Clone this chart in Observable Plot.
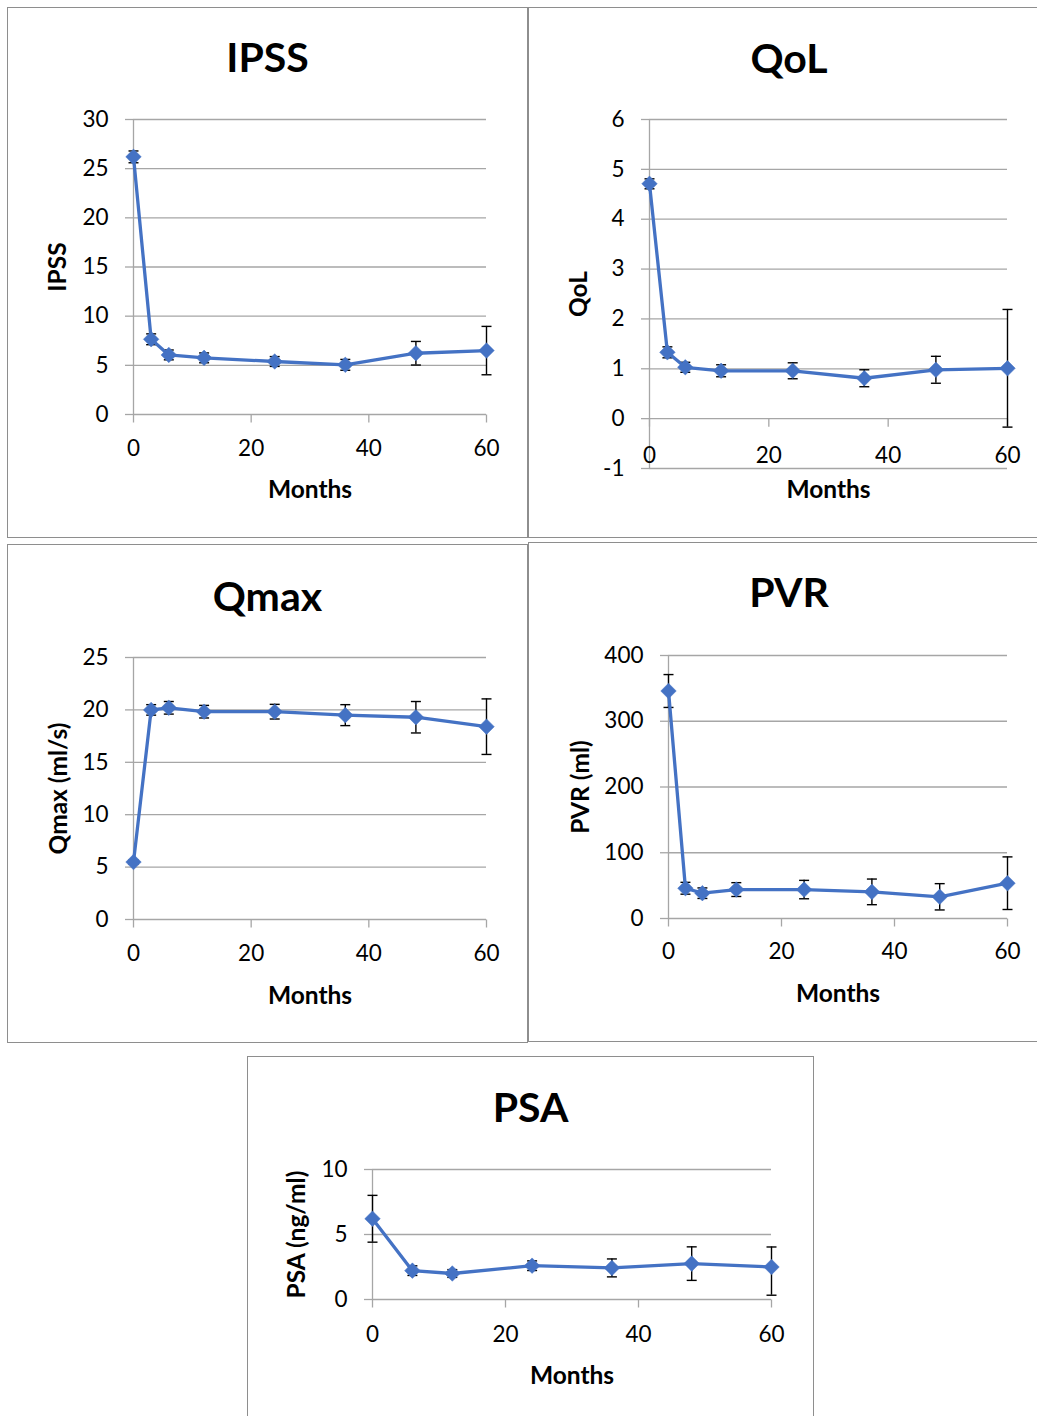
<!DOCTYPE html>
<html><head><meta charset="utf-8">
<script src="https://cdn.jsdelivr.net/npm/d3@7"></script>
<script src="https://cdn.jsdelivr.net/npm/@observablehq/plot@0.6"></script>
<style>
html,body{margin:0;padding:0;background:#fff;overflow:hidden;width:1037px;height:1416px;}
body{position:relative;font-family:Lato,"Open Sans",sans-serif;}
.panel{position:absolute;box-sizing:border-box;outline:1.5px solid #8e8e8e;outline-offset:-1px;background:#fff;}
.title{box-sizing:border-box;height:90px;text-align:center;font-weight:700;font-size:41px;line-height:1.2;color:#000;white-space:nowrap;}
.panel svg{display:block;}
</style></head><body>
<script>
// ---- data ----
const months = [0, 3, 6, 12, 24, 36, 48, 60];
const psaMonths = [0, 6, 12, 24, 36, 48, 60];
const xTicks = [0, 20, 40, 60];

const ipss = [26.2, 7.65, 6.06, 5.76, 5.39, 5.05, 6.23, 6.5];
const ipssErr = [0.6, 0.55, 0.5, 0.5, 0.5, 0.55, 1.2, 2.46];
const ipssTicks = [0, 5, 10, 15, 20, 25, 30];

const qol = [4.71, 1.33, 1.03, 0.96, 0.96, 0.81, 0.98, 1.01];
const qolErr = [0.1, 0.11, 0.1, 0.12, 0.16, 0.17, 0.27, 1.18];
const qolTicks = [-1, 0, 1, 2, 3, 4, 5, 6];

const qmax = [5.48, 20.0, 20.2, 19.83, 19.83, 19.5, 19.3, 18.4];
const qmaxErr = [0.2, 0.5, 0.6, 0.6, 0.7, 1.0, 1.5, 2.65];
const qmaxTicks = [0, 5, 10, 15, 20, 25];

const pvr = [346, 46, 38.5, 44, 44, 40.5, 33, 53.7];
const pvrErr = [25, 9, 8, 10.5, 14, 19.5, 20, 40];
const pvrTicks = [0, 100, 200, 300, 400];

const psa = [6.21, 2.22, 2.0, 2.6, 2.43, 2.76, 2.5];
const psaErrUp = [1.8, 0.37, 0.3, 0.37, 0.69, 1.29, 1.54];
const psaErrDown = [1.8, 0.37, 0.3, 0.37, 0.69, 1.29, 2.17];
const psaTicks = [0, 5, 10];

// ---- styling ----
const BLUE = "#4472C4";
const GRID = "#a6a6a6";
const FONT = "Lato, 'Open Sans', sans-serif";
const TICK_FS = 22.5;
const AXT_FS = 24.5;

const capSymbol = {draw(ctx) { ctx.moveTo(-5, 0); ctx.lineTo(5, 0); }};
const tickDownSymbol = {draw(ctx) { ctx.moveTo(0, 0); ctx.lineTo(0, 8); }};

function panel(cfg) {
  const div = document.createElement("div");
  div.className = "panel";
  Object.assign(div.style, {left: cfg.left + "px", top: cfg.top + "px", width: cfg.w + "px", height: cfg.h + "px"});
  const t = document.createElement("div");
  t.className = "title";
  t.style.paddingTop = cfg.titlePad + "px";
  t.textContent = cfg.title;
  div.appendChild(t);

  const rows = cfg.x.map((m, i) => ({m, v: cfg.v[i], up: cfg.up[i], down: cfg.down[i]}));
  const svg = Plot.plot({
    width: cfg.w,
    height: cfg.h - 90,
    marginTop: cfg.mt, marginRight: cfg.mr, marginBottom: cfg.mb, marginLeft: cfg.ml,
    style: {fontFamily: FONT, color: "#000", background: "transparent", overflow: "visible"},
    x: {domain: [0, 60], axis: null},
    y: {domain: [cfg.ticks[0], cfg.ticks[cfg.ticks.length - 1]], axis: null},
    marks: [
      Plot.gridY(cfg.ticks, {stroke: GRID, strokeOpacity: 1, strokeWidth: 1.3}),
      Plot.axisY(cfg.ticks, {tickSize: 8, tickPadding: 17, stroke: GRID, strokeWidth: 1.3, fill: "#000", fontSize: TICK_FS, fontFamily: FONT, label: null, tickFormat: d => String(d)}),
      Plot.ruleX([0], {stroke: GRID, strokeWidth: 1.3}),
      Plot.dot(xTicks, {x: d => d, y: 0, symbol: tickDownSymbol, r: 1, fill: "none", stroke: GRID, strokeWidth: 1.3}),
      Plot.text(xTicks, {x: d => d, y: 0, text: d => String(d), dy: cfg.xLabDy, lineAnchor: "top", fontSize: TICK_FS, fill: "#000"}),
      Plot.ruleX(rows, {x: "m", y1: d => d.v - d.down, y2: d => d.v + d.up, stroke: "#000", strokeWidth: 1.4}),
      Plot.dot(rows, {x: "m", y: d => d.v + d.up, symbol: capSymbol, r: 1, fill: "none", stroke: "#000", strokeWidth: 1.4}),
      Plot.dot(rows, {x: "m", y: d => d.v - d.down, symbol: capSymbol, r: 1, fill: "none", stroke: "#000", strokeWidth: 1.4}),
      Plot.line(rows, {x: "m", y: "v", stroke: BLUE, strokeWidth: 3.3}),
      Plot.dot(rows, {x: "m", y: "v", symbol: "diamond2", r: 7, fill: BLUE, stroke: BLUE, strokeWidth: 0.5}),
      Plot.text(["Months"], {frameAnchor: "bottom", text: d => d, dy: cfg.monthsDy, lineAnchor: "top", fontSize: AXT_FS, fontWeight: "bold", fill: "#000"}),
      Plot.text([cfg.yLabel], {frameAnchor: "left", text: d => d, rotate: -90, dx: cfg.yTitleDx, lineAnchor: "middle", textAnchor: "middle", fontSize: AXT_FS, fontWeight: "bold", fill: "#000"})
    ]
  });
  div.appendChild(svg);
  document.body.appendChild(div);
}

panel({title: "IPSS", yLabel: "IPSS", x: months, v: ipss, up: ipssErr, down: ipssErr, ticks: ipssTicks,
  left: 7, top: 7, w: 521, h: 531, titlePad: 24.5, mt: 22, mr: 42, mb: 124, ml: 126, xLabDy: 26, monthsDy: 66.5, yTitleDx: -75});
panel({title: "QoL", yLabel: "QoL", x: months, v: qol, up: qolErr, down: qolErr, ticks: qolTicks,
  left: 528, top: 7, w: 522, h: 531, titlePad: 25.5, mt: 22, mr: 43, mb: 70, ml: 121, xLabDy: 28, monthsDy: 12.5, yTitleDx: -70});
panel({title: "Qmax", yLabel: "Qmax (ml/s)", x: months, v: qmax, up: qmaxErr, down: qmaxErr, ticks: qmaxTicks,
  left: 7, top: 544, w: 521, h: 499, titlePad: 26.5, mt: 23, mr: 42, mb: 124, ml: 126, xLabDy: 25.5, monthsDy: 67, yTitleDx: -74});
panel({title: "PVR", yLabel: "PVR (ml)", x: months, v: pvr, up: pvrErr, down: pvrErr, ticks: pvrTicks,
  left: 528, top: 542, w: 522, h: 500, titlePad: 25.2, mt: 23, mr: 43, mb: 124, ml: 140, xLabDy: 24.5, monthsDy: 66.5, yTitleDx: -87});
panel({title: "PSA", yLabel: "PSA (ng/ml)", x: psaMonths, v: psa, up: psaErrUp, down: psaErrDown, ticks: psaTicks,
  left: 247, top: 1056, w: 567, h: 380, titlePad: 26.2, mt: 23, mr: 43, mb: 137, ml: 125, xLabDy: 27, monthsDy: 67, yTitleDx: -75});
</script>
</body></html>
